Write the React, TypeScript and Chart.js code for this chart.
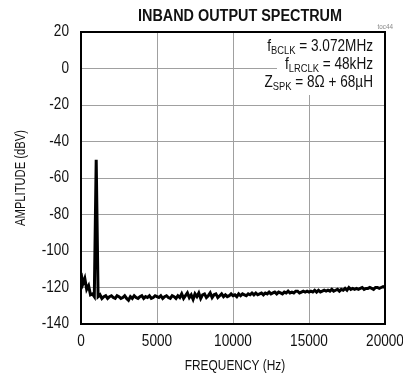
import React, { useEffect, useRef } from "react";
import { Chart, registerables } from "chart.js";

Chart.register(...registerables);

const TITLE = "INBAND OUTPUT SPECTRUM";
const X_TITLE = "FREQUENCY (Hz)";
const Y_TITLE = "AMPLITUDE (dBV)";
const X_TICKS = [0, 5000, 10000, 15000, 20000];
const Y_TICKS = [20, 0, -20, -40, -60, -80, -100, -120, -140];
const FREQ_STEP_HZ = 125;

// amplitude (dBV) every 125 Hz from 0 Hz to 20 kHz
const AMPLITUDE = [
  -112, -118, -115, -121, -119, -124, -123.5, -125,
  -50,
  -125, -124, -126, -125, -124.5, -126, -125, -124.5, -125.5, -126,
  -124.5, -125, -126, -125.5, -124.5, -126, -127, -125, -126, -124.5,
  -125.5, -126, -125, -124.5, -126, -125, -125.5, -124.5, -126, -125.5,
  -124.5, -125,
  -125.5, -124.5, -126, -125, -124.5, -125.5, -126, -124.5, -125, -126,
  -124.5, -125.5, -123.5, -126, -124.5, -123, -125.5, -124, -126.5, -123.5,
  -125, -123, -126, -124, -123.5, -125.5, -124.5, -123, -125.5, -124,
  -123.5, -125.5, -124.5, -123.5, -125, -124, -125, -124.5, -123.5, -124.5,
  -124, -125, -123.5, -124.5, -123.5, -124, -124.5, -123.5, -124, -123,
  -124, -123, -124, -123.5, -123, -124, -123, -123.5, -122.5, -123.5,
  -123, -122.5, -123.5, -122.5, -123, -123.5, -122.5, -123, -122, -123,
  -122.5, -123, -122, -122, -123, -122.5, -122, -122.5, -122, -122.5,
  -122, -122.5, -121.5, -122.5, -121.5, -122.5, -122, -121.5, -122, -121.5,
  -122, -121, -122, -121.5, -121, -122, -121, -121.5, -120.5, -121.5,
  -120, -121, -120.5, -121, -120.5, -121, -120.5, -120, -121, -120.5,
  -120.5, -120, -120.5, -121, -120, -120, -120.5, -120, -119.5, -120,
];

const ANNOTATION = [
  { main: "f", sub: "BCLK", rest: " = 3.072MHz" },
  { main: "f", sub: "LRCLK", rest: " = 48kHz" },
  { main: "Z", sub: "SPK", rest: " = 8\u03A9 + 68\u00B5H" },
];

const FONT = "'Liberation Sans', Arial, sans-serif";

function drawScaled(
  ctx: CanvasRenderingContext2D,
  text: string,
  x: number,
  y: number,
  font: string,
  sx: number,
  align: "left" | "center" | "right"
) {
  ctx.save();
  ctx.font = font;
  const w = ctx.measureText(text).width * sx;
  let left = x;
  if (align === "center") left = x - w / 2;
  if (align === "right") left = x - w;
  ctx.translate(left, y);
  ctx.scale(sx, 1);
  ctx.textAlign = "left";
  ctx.textBaseline = "middle";
  ctx.fillText(text, 0, 0);
  ctx.restore();
  return w;
}

const overlay = {
  id: "overlay",
  afterDatasetsDraw(chart: any) {
    const ctx: CanvasRenderingContext2D = chart.ctx;
    const a = chart.chartArea;
    const xs = chart.scales.x;
    const ys = chart.scales.y;

    // white box behind annotation
    ctx.save();
    ctx.fillStyle = "#ffffff";
    ctx.fillRect(a.right - 108, a.top, 108, 63);
    ctx.restore();

    // plot border
    ctx.save();
    ctx.strokeStyle = "#000";
    ctx.lineWidth = 2;
    ctx.strokeRect(a.left, a.top, a.right - a.left, a.bottom - a.top);
    ctx.restore();

    ctx.save();
    ctx.fillStyle = "#111";
    // title
    drawScaled(ctx, TITLE, (a.left + a.right) / 2 + 7, 17, `bold 16px ${FONT}`, 0.9, "center");
    // tick labels
    const tickFont = `16px ${FONT}`;
    for (const v of Y_TICKS) {
      drawScaled(ctx, String(v), a.left - 12, ys.getPixelForValue(v), tickFont, 0.85, "right");
    }
    for (const v of X_TICKS) {
      drawScaled(ctx, String(v), xs.getPixelForValue(v), a.bottom + 18, tickFont, 0.85, "center");
    }
    // axis titles
    drawScaled(ctx, X_TITLE, (a.left + a.right) / 2 + 2, a.bottom + 42, `14px ${FONT}`, 0.85, "center");
    ctx.save();
    ctx.translate(21, (a.top + a.bottom) / 2);
    ctx.rotate(-Math.PI / 2);
    drawScaled(ctx, Y_TITLE, 0, 0, `14px ${FONT}`, 0.8, "center");
    ctx.restore();

    // annotation
    const rightX = a.right - 12;
    ANNOTATION.forEach((ln, i) => {
      const y = a.top + 15 + i * 18;
      const sx = 0.85;
      ctx.font = `16px ${FONT}`;
      const w1 = ctx.measureText(ln.main).width * sx;
      const w3 = ctx.measureText(ln.rest).width * sx;
      ctx.font = `11px ${FONT}`;
      const w2 = ctx.measureText(ln.sub).width * sx;
      let x = rightX - (w1 + w2 + w3);
      x += drawScaled(ctx, ln.main, x, y, `16px ${FONT}`, sx, "left");
      x += drawScaled(ctx, ln.sub, x, y + 4, `11px ${FONT}`, sx, "left");
      drawScaled(ctx, ln.rest, x, y, `16px ${FONT}`, sx, "left");
    });

    // figure code
    ctx.fillStyle = "#888";
    drawScaled(ctx, "toc44", a.right + 8, a.top - 5, `7px ${FONT}`, 0.9, "right");
    ctx.restore();
  },
};

export default function App() {
  const ref = useRef<HTMLCanvasElement | null>(null);

  useEffect(() => {
    document.body.style.margin = "0";
    const canvas = ref.current!;
    const points = AMPLITUDE.map((v, i) => ({ x: i * FREQ_STEP_HZ, y: v }));
    const chart = new Chart(canvas, {
      type: "line",
      data: {
        datasets: [
          {
            data: points,
            borderColor: "#000",
            borderWidth: 3,
            pointRadius: 0,
            tension: 0,
            fill: false,
          },
        ],
      },
      options: {
        animation: false,
        responsive: false,
        devicePixelRatio: 1,
        layout: { padding: { left: 0, right: 18, top: 32, bottom: 0 } },
        plugins: { legend: { display: false }, title: { display: false }, tooltip: { enabled: false } },
        scales: {
          x: {
            type: "linear",
            min: 0,
            max: 20000,
            afterBuildTicks: (s: any) => {
              s.ticks = X_TICKS.map((v) => ({ value: v }));
            },
            afterFit: (s: any) => {
              s.height = 59;
            },
            ticks: { display: false },
            grid: { color: "#a0a0a0", lineWidth: 1, drawTicks: false },
            border: { display: false },
          },
          y: {
            type: "linear",
            min: -140,
            max: 20,
            afterBuildTicks: (s: any) => {
              s.ticks = Y_TICKS.map((v) => ({ value: v }));
            },
            afterFit: (s: any) => {
              s.width = 81;
            },
            ticks: { display: false },
            grid: { color: "#a0a0a0", lineWidth: 1, drawTicks: false },
            border: { display: false },
          },
        },
      },
      plugins: [overlay],
    });
    return () => chart.destroy();
  }, []);

  return (
    <div style={{ position: "absolute", left: 0, top: 0, width: 403, height: 383, background: "#fff" }}>
      <canvas ref={ref} width={403} height={383} />
    </div>
  );
}
